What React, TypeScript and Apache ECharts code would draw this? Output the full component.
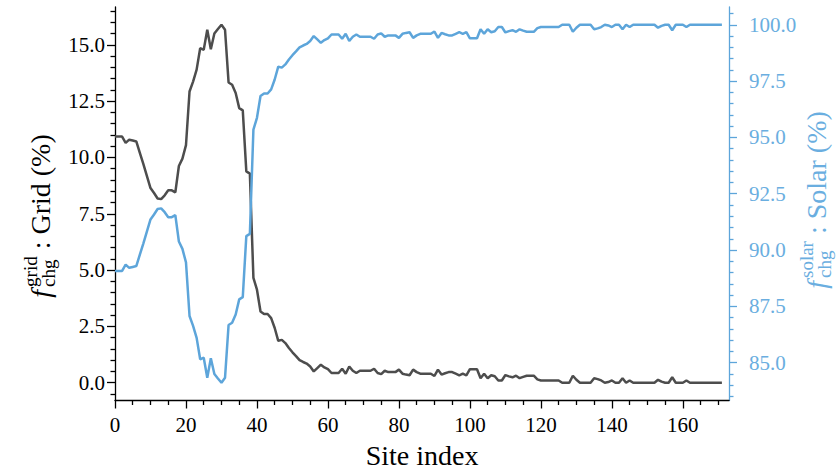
import React, { useEffect, useRef } from "react";
import * as echarts from "echarts";

// Share of charging energy from the grid (%), per site index 0..171
const gridShare: number[] = [
  10.93, 10.93, 10.93, 10.65, 10.79, 10.75, 10.71, 10.2, 9.7, 9.17,
  8.64, 8.42, 8.18, 8.15, 8.32, 8.54, 8.54, 8.45, 9.62, 9.95,
  10.55, 12.93, 13.37, 13.9, 14.85, 14.78, 15.67, 14.8, 15.5, 15.7,
  15.89, 15.67, 13.33, 13.23, 12.86, 12.19, 12.09, 9.38, 9.28, 4.65,
  4.13, 3.16, 3.05, 3.05, 2.87, 2.43, 1.86, 1.9, 1.76, 1.54,
  1.35, 1.18, 1.0, 0.92, 0.85, 0.72, 0.5, 0.65, 0.8, 0.68,
  0.6, 0.43, 0.43, 0.43, 0.62, 0.4, 0.72, 0.53, 0.43, 0.53,
  0.53, 0.53, 0.53, 0.62, 0.43, 0.38, 0.53, 0.47, 0.47, 0.47,
  0.58, 0.4, 0.36, 0.33, 0.58, 0.47, 0.4, 0.4, 0.4, 0.4,
  0.3, 0.58, 0.36, 0.42, 0.47, 0.47, 0.4, 0.33, 0.4, 0.33,
  0.6, 0.6, 0.6, 0.2, 0.4, 0.2, 0.33, 0.29, 0.1, 0.1,
  0.34, 0.28, 0.24, 0.31, 0.2, 0.26, 0.31, 0.31, 0.31, 0.15,
  0.1, 0.1, 0.1, 0.1, 0.1, 0.1, 0, 0, 0, 0.31,
  0.13, 0, 0, 0, 0, 0.2, 0.16, 0.1, 0, 0.03,
  0.1, 0, 0, 0.2, 0, 0.1, 0, 0, 0, 0,
  0, 0, 0, 0.13, 0.05, 0, 0, 0.24, 0, 0,
  0, 0.1, 0, 0, 0, 0, 0, 0, 0, 0,
  0, 0,
];

// Share of charging energy from solar (%), per site index 0..171
const solarShare: number[] = [
  89.07, 89.07, 89.07, 89.35, 89.21, 89.25, 89.29, 89.8, 90.3, 90.83,
  91.36, 91.58, 91.82, 91.85, 91.68, 91.46, 91.46, 91.55, 90.38, 90.05,
  89.45, 87.07, 86.63, 86.1, 85.15, 85.22, 84.33, 85.2, 84.5, 84.3,
  84.11, 84.33, 86.67, 86.77, 87.14, 87.81, 87.91, 90.62, 90.72, 95.35,
  95.87, 96.84, 96.95, 96.95, 97.13, 97.57, 98.14, 98.1, 98.24, 98.46,
  98.65, 98.82, 99.0, 99.08, 99.15, 99.28, 99.5, 99.35, 99.2, 99.32,
  99.4, 99.57, 99.57, 99.57, 99.38, 99.6, 99.28, 99.47, 99.57, 99.47,
  99.47, 99.47, 99.47, 99.38, 99.57, 99.62, 99.47, 99.53, 99.53, 99.53,
  99.42, 99.6, 99.64, 99.67, 99.42, 99.53, 99.6, 99.6, 99.6, 99.6,
  99.7, 99.42, 99.64, 99.58, 99.53, 99.53, 99.6, 99.67, 99.6, 99.67,
  99.4, 99.4, 99.4, 99.8, 99.6, 99.8, 99.67, 99.71, 99.9, 99.9,
  99.66, 99.72, 99.76, 99.69, 99.8, 99.74, 99.69, 99.69, 99.69, 99.85,
  99.9, 99.9, 99.9, 99.9, 99.9, 99.9, 100, 100, 100, 99.69,
  99.87, 100, 100, 100, 100, 99.8, 99.84, 99.9, 100, 99.97,
  99.9, 100, 100, 99.8, 100, 99.9, 100, 100, 100, 100,
  100, 100, 100, 99.87, 99.95, 100, 100, 99.76, 100, 100,
  100, 99.9, 100, 100, 100, 100, 100, 100, 100, 100,
  100, 100,
];

const xMajorTicks = [0, 20, 40, 60, 80, 100, 120, 140, 160];
const xMinorTicks = [
  5, 10, 15, 25, 30, 35, 45, 50, 55, 65, 70, 75, 85, 90, 95, 105, 110, 115,
  125, 130, 135, 145, 150, 155, 165, 170,
];
const leftMajorTicks = [0, 2.5, 5, 7.5, 10, 12.5, 15];
const leftMinorTicks = [
  -0.5, 0.5, 1, 1.5, 2, 3, 3.5, 4, 4.5, 5.5, 6, 6.5, 7, 8, 8.5, 9, 9.5, 10.5,
  11, 11.5, 12, 13, 13.5, 14, 14.5, 15.5, 16, 16.5,
];
const rightMajorTicks = [85, 87.5, 90, 92.5, 95, 97.5, 100];
const rightMinorTicks = [
  83.5, 84, 84.5, 85.5, 86, 86.5, 87, 88, 88.5, 89, 89.5, 90.5, 91, 91.5, 92,
  93, 93.5, 94, 94.5, 95.5, 96, 96.5, 97, 98, 98.5, 99, 99.5, 100.5,
];

const X_MAX = 173;
const LEFT_RANGE = [-0.79, 16.68];
const RIGHT_RANGE = [83.32, 100.79];

const FAMILY = '"Liberation Serif", "Times New Roman", serif';
const DARK = "#4d4d4d";
const BLUE = "#5da5da";
const BLUE_TEXT = "#6aaee0";

function measure(text: string, font: string): number {
  const ctx = document.createElement("canvas").getContext("2d");
  if (!ctx) return text.length * 10;
  ctx.font = font;
  return ctx.measureText(text).width;
}

function mathLabel(cx: number, cy: number, sup: string, sub: string, main: string, color: string) {
  const big = 28;
  const small = 19;
  const wF = measure("f", `italic ${big}px ${FAMILY}`);
  const wS = Math.max(measure(sup, `${small}px ${FAMILY}`), measure(sub, `${small}px ${FAMILY}`));
  const wM = measure(main, `${big}px ${FAMILY}`);
  const gap = 3;
  const W = wF + gap + wS + wM;
  const x0 = -W / 2;
  const base = { fill: color, fontFamily: FAMILY, align: "left", verticalAlign: "middle" };
  return {
    type: "group",
    x: cx,
    y: cy,
    rotation: Math.PI / 2,
    children: [
      { type: "text", x: x0, y: 0, style: { ...base, text: "f", fontSize: big, fontStyle: "italic" } },
      { type: "text", x: x0 + wF + gap, y: -10, style: { ...base, text: sup, fontSize: small } },
      { type: "text", x: x0 + wF + gap, y: 8, style: { ...base, text: sub, fontSize: small } },
      { type: "text", x: x0 + wF + gap + wS, y: 0, style: { ...base, text: main, fontSize: big } },
    ],
  };
}

export default function App() {
  const ref = useRef<HTMLDivElement>(null);

  useEffect(() => {
    if (!ref.current) return;
    const chart = echarts.init(ref.current, null, { renderer: "svg" });

    const tickFont = { fontFamily: FAMILY, fontSize: 21 };
    const blackLine = { color: "#000", width: 1.3 };
    const blueLine = { color: BLUE, width: 1.3 };

    chart.setOption({
      animation: false,
      backgroundColor: "#fff",
      grid: { left: 115, right: 110, top: 7, bottom: 71.5, containLabel: false, outerBoundsMode: "none" },
      xAxis: [
        {
          type: "value",
          position: "bottom",
          min: 0,
          max: X_MAX,
          axisLine: { show: true, onZero: false, lineStyle: blackLine },
          axisTick: { show: true, length: 8, customValues: xMajorTicks, lineStyle: blackLine },
          axisLabel: { customValues: xMajorTicks, color: "#000", margin: 14, ...tickFont },
          splitLine: { show: false },
        },
        {
          type: "value",
          position: "bottom",
          min: 0,
          max: X_MAX,
          axisLine: { show: false, onZero: false },
          axisTick: { show: true, length: 4.5, customValues: xMinorTicks, lineStyle: blackLine },
          axisLabel: { show: false },
          splitLine: { show: false },
        },
      ],
      yAxis: [
        {
          type: "value",
          position: "left",
          min: LEFT_RANGE[0],
          max: LEFT_RANGE[1],
          axisLine: { show: true, onZero: false, lineStyle: blackLine },
          axisTick: { show: true, length: 8, customValues: leftMajorTicks, lineStyle: blackLine },
          axisLabel: {
            customValues: leftMajorTicks,
            color: "#000",
            margin: 10,
            formatter: (v: number) => v.toFixed(1),
            ...tickFont,
          },
          splitLine: { show: false },
        },
        {
          type: "value",
          position: "left",
          min: LEFT_RANGE[0],
          max: LEFT_RANGE[1],
          axisLine: { show: false, onZero: false },
          axisTick: { show: true, length: 4.5, customValues: leftMinorTicks, lineStyle: blackLine },
          axisLabel: { show: false },
          splitLine: { show: false },
        },
        {
          type: "value",
          position: "right",
          min: RIGHT_RANGE[0],
          max: RIGHT_RANGE[1],
          axisLine: { show: true, onZero: false, lineStyle: blueLine },
          axisTick: { show: true, length: 8, customValues: rightMajorTicks, lineStyle: blueLine },
          axisLabel: {
            customValues: rightMajorTicks,
            color: BLUE_TEXT,
            margin: 20,
            formatter: (v: number) => v.toFixed(1),
            ...tickFont,
          },
          splitLine: { show: false },
        },
        {
          type: "value",
          position: "right",
          min: RIGHT_RANGE[0],
          max: RIGHT_RANGE[1],
          axisLine: { show: false, onZero: false },
          axisTick: { show: true, length: 4.5, customValues: rightMinorTicks, lineStyle: blueLine },
          axisLabel: { show: false },
          splitLine: { show: false },
        },
      ],
      series: [
        {
          type: "line",
          xAxisIndex: 0,
          yAxisIndex: 0,
          data: gridShare.map((v, i) => [i, v]),
          showSymbol: false,
          symbol: "none",
          lineStyle: { color: DARK, width: 2.5 },
          z: 2,
        },
        {
          type: "line",
          xAxisIndex: 0,
          yAxisIndex: 2,
          data: solarShare.map((v, i) => [i, v]),
          showSymbol: false,
          symbol: "none",
          lineStyle: { color: BLUE, width: 2.5 },
          z: 3,
        },
      ],
      graphic: [
        {
          type: "text",
          x: 422,
          y: 455,
          style: {
            text: "Site index",
            fontFamily: FAMILY,
            fontSize: 28,
            fill: "#000",
            align: "center",
            verticalAlign: "middle",
          },
        },
        mathLabel(40, 216, "grid", "chg", " : Grid (%)", "#000"),
        mathLabel(816, 200, "solar", "chg", " : Solar (%)", BLUE_TEXT),
      ],
    });

    return () => chart.dispose();
  }, []);

  return (
    <div
      ref={ref}
      style={{ position: "fixed", left: 0, top: 0, width: 839, height: 472, background: "#fff" }}
    />
  );
}
